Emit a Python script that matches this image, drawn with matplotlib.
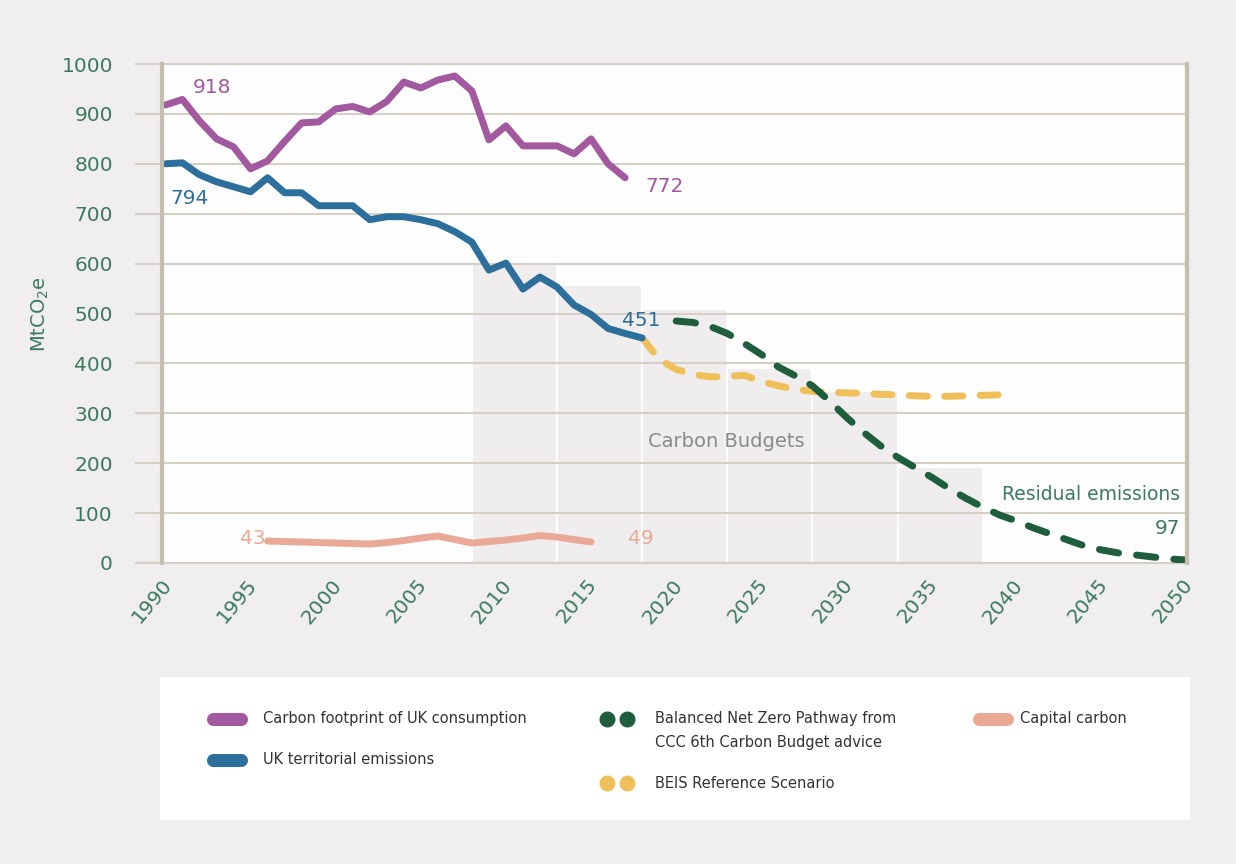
import matplotlib
matplotlib.use("Agg")
import matplotlib.pyplot as plt
from matplotlib import transforms

# colours
BG = "#f0eeef"
GRID = "#d6cfc6"
SPINE = "#c6bdb1"
GREEN_TXT = "#3b7a5e"
PURPLE = "#a3599f"
BLUE = "#2c6e9c"
SALMON = "#e9a996"
DKGREEN = "#1e5e3c"
YELLOW = "#efc05a"

# data (MtCO2e)
years_footprint = list(range(1990, 2018))
footprint = [918, 929, 886, 850, 834, 790, 806, 845, 882, 884,
             910, 915, 904, 925, 964, 952, 968, 976, 946, 848,
             876, 836, 836, 836, 820, 850, 800, 772]

years_territorial = list(range(1990, 2019))
territorial = [800, 802, 778, 764, 754, 744, 772, 742, 742, 716,
               716, 716, 688, 694, 694, 688, 680, 664, 643, 587,
               601, 549, 573, 553, 517, 498, 470, 460, 451]

years_capital = list(range(1996, 2016))
capital = [44, 43, 42, 41, 40, 39, 38, 41, 45, 50,
           54, 47, 40, 43, 46, 50, 55, 52, 47, 42]

years_netzero = list(range(2020, 2051))
netzero = [485, 482, 474, 460, 440, 418, 393, 375, 355, 325,
           292, 262, 235, 212, 192, 172, 150, 130, 112, 96,
           84, 70, 58, 46, 34, 26, 20, 16, 12, 8, 6]

years_beis = list(range(2018, 2040))
beis = [451, 408, 388, 378, 373, 374, 376, 364, 355, 348,
        344, 342, 341, 340, 338, 337, 335, 334, 334, 335, 336, 337]

budget_start = [2008, 2013, 2018, 2023, 2028, 2033]
budget_avg = [603.6, 556.4, 508.8, 390, 345, 193]

fig = plt.figure(figsize=(12.36, 8.64), dpi=100, facecolor=BG)
ax = fig.add_axes([0.1311, 0.3484, 0.8292, 0.5775])
ax.set_facecolor("#fdfdfd")

# carbon budget blocks
ax.bar(budget_start, budget_avg, width=5, align="edge", color="#efedee",
       edgecolor="white", linewidth=1.5, zorder=1)

lw = 5
ax.plot(years_capital, capital, color=SALMON, lw=lw, solid_capstyle="round",
        solid_joinstyle="round", zorder=4)
ax.plot(years_footprint, footprint, color=PURPLE, lw=lw, solid_capstyle="round",
        solid_joinstyle="round", zorder=4)
ax.plot(years_territorial, territorial, color=BLUE, lw=lw, solid_capstyle="round",
        solid_joinstyle="round", zorder=4)
ax.plot(years_beis, beis, color=YELLOW, lw=lw, ls=(0, (2.6, 2.5)),
        dash_capstyle="round", zorder=3)
ax.plot(years_netzero, netzero, color=DKGREEN, lw=lw, ls=(0, (2.8, 2.6)),
        dash_capstyle="round", zorder=3.5)

# axes styling
ax.set_xlim(1989.8, 2050)
ax.set_ylim(0, 1000)
ax.set_yticks(range(0, 1001, 100))
ax.set_xticks(range(1990, 2051, 5))
ax.set_axisbelow(False)
ax.yaxis.grid(True, color=GRID, lw=1.5, zorder=2)
for side in ["left", "right"]:
    ax.spines[side].set_color(SPINE)
    ax.spines[side].set_linewidth(3)
    ax.spines[side].set_zorder(5)
for side in ["top", "bottom"]:
    ax.spines[side].set_color(GRID)
    ax.spines[side].set_linewidth(1.5)

ax.tick_params(axis="y", length=19.4, width=1.5, color=GRID, labelcolor=GREEN_TXT,
               labelsize=14.5, pad=16)
ax.tick_params(axis="x", length=0, labelcolor=GREEN_TXT, labelsize=14.5,
               pad=9, labelrotation=50)
shift = transforms.ScaledTranslation(0.1, 0, fig.dpi_scale_trans)
for lab in ax.get_xticklabels():
    lab.set_ha("right")
    lab.set_transform(lab.get_transform() + shift)

fig.text(40 / 1236, 1 - 314 / 864, r"MtCO$_2$e", rotation=90, color=GREEN_TXT,
         fontsize=14, ha="center", va="center")

# labels on the lines
ax.text(1992.74, 952, "918", color=PURPLE, fontsize=14.5, ha="center", va="center")
ax.text(1991.44, 731, "794", color=BLUE, fontsize=14.5, ha="center", va="center")
ax.text(2019.34, 755, "772", color=PURPLE, fontsize=14.5, ha="center", va="center")
ax.text(2017.93, 485, "451", color=BLUE, fontsize=14.5, ha="center", va="center")
ax.text(1995.9, 50, "43", color=SALMON, fontsize=14.5, ha="right", va="center")
ax.text(2017.93, 50, "49", color=SALMON, fontsize=14.5, ha="center", va="center")
ax.text(2022.92, 244, "Carbon Budgets", color="#8a8a8a", fontsize=14,
        ha="center", va="center")
ax.text(2049.58, 138, "Residual emissions", color=GREEN_TXT, fontsize=13.5,
        ha="right", va="center")
ax.text(2049.58, 70, "97", color=GREEN_TXT, fontsize=14.5, ha="right", va="center")

# legend panel, drawn in pixel-like coordinates
lax = fig.add_axes([160 / 1236, 1 - 820 / 864, 1030 / 1236, 143 / 864])
lax.set_facecolor("white")
lax.set_xlim(160, 1190)
lax.set_ylim(820, 677)
lax.set_xticks([])
lax.set_yticks([])
for s in lax.spines.values():
    s.set_visible(False)

def pill(x, y, color):
    lax.plot([x + 6, x + 34], [y, y], color=color, lw=9.4, solid_capstyle="round")

def dots(x, y, color):
    lax.plot([x + 5, x + 25], [y, y], "o", ms=10.5, color=color, mec=color)

leg_font = dict(fontsize=10.5, color="#333333", va="center", ha="left")
pill(207, 719, PURPLE)
lax.text(263, 719, "Carbon footprint of UK consumption", **leg_font)
pill(207, 760, BLUE)
lax.text(263, 760, "UK territorial emissions", **leg_font)
dots(602, 719, DKGREEN)
lax.text(655, 719, "Balanced Net Zero Pathway from", **leg_font)
lax.text(655, 743, "CCC 6th Carbon Budget advice", **leg_font)
dots(602, 783, YELLOW)
lax.text(655, 783, "BEIS Reference Scenario", **leg_font)
pill(973, 719, SALMON)
lax.text(1020, 719, "Capital carbon", **leg_font)

fig.savefig("out.png", dpi=100, facecolor=BG)
